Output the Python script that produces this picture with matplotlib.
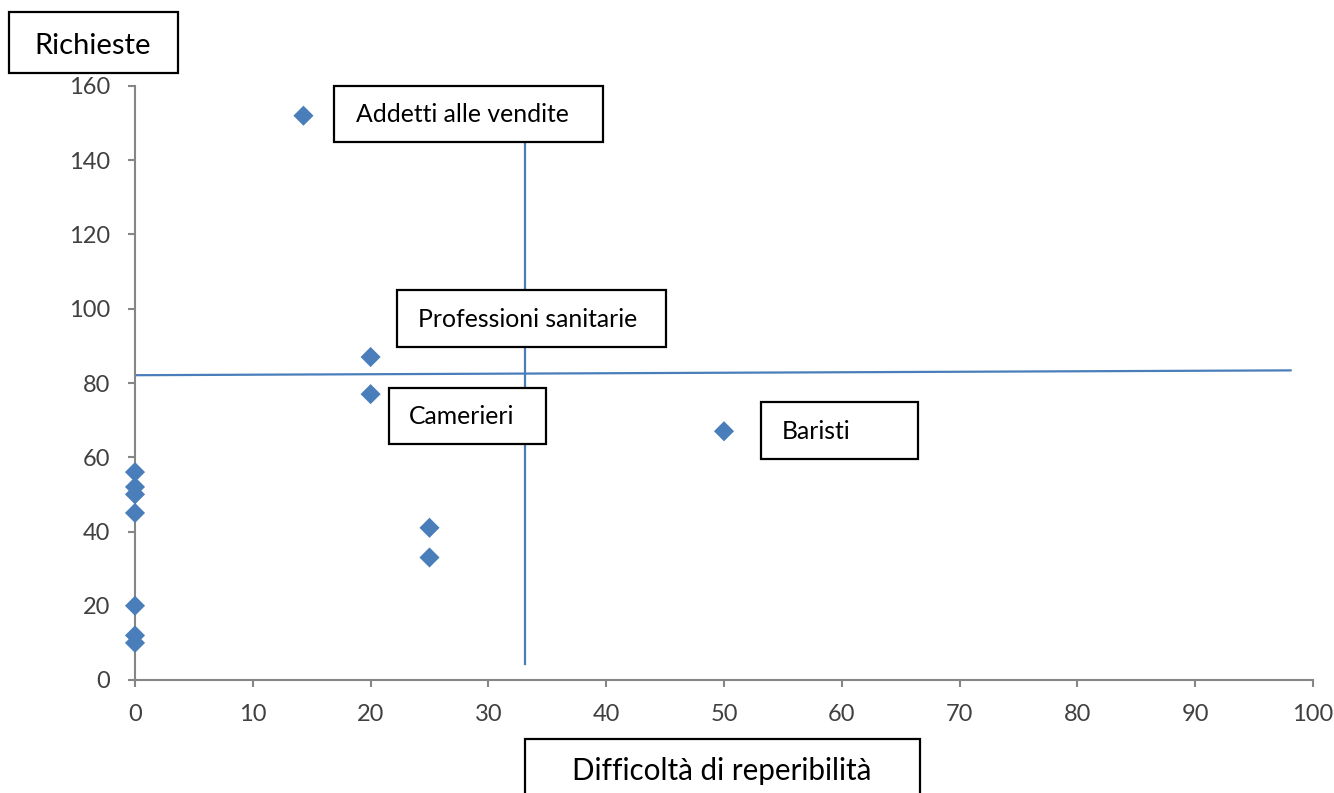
import matplotlib
matplotlib.use('Agg')
import matplotlib.pyplot as plt
from matplotlib.patches import Rectangle

# difficolta di reperibilita (%) e numero di richieste per professione
x_diff = [14.3, 20, 20, 50, 25, 25, 0, 0, 0, 0, 0, 0, 0]
y_rich = [152, 87, 77, 67, 41, 33, 56, 52, 50, 45, 20, 12, 10]

# linee di riferimento (medie)
vline_x = [33.1, 33.1]
vline_y = [4.3, 150]
hline_x = [0, 98.1]
hline_y = [82.1, 83.4]

xticks = [0, 10, 20, 30, 40, 50, 60, 70, 80, 90, 100]
yticks = [0, 20, 40, 60, 80, 100, 120, 140, 160]

# etichette: testo, riquadro (x0, y0, x1, y1 in pixel), x del testo
labels = [
    ('Addetti alle vendite', (334, 86, 603, 142), 356),
    ('Professioni sanitarie', (397, 290, 666, 347), 418),
    ('Camerieri', (389, 388, 546, 444), 409),
    ('Baristi', (761, 402, 918, 459), 782),
]

W, H = 1334, 793
blue = '#4A7EBB'
grey = '#868686'

plt.rcParams['font.family'] = ['Lato', 'DejaVu Sans']

fig = plt.figure(figsize=(W / 100, H / 100), dpi=100)
ax = fig.add_axes([135 / W, 1 - 680 / H, (1313 - 135) / W, (680 - 86) / H])

ax.plot(vline_x, vline_y, color=blue, lw=1.6, zorder=2)
ax.plot(hline_x, hline_y, color=blue, lw=1.6, zorder=2)
ax.scatter(x_diff, y_rich, marker='D', s=105, color=blue, edgecolor='none',
           zorder=4, clip_on=False)

ax.set_xlim(0, 100)
ax.set_ylim(0, 160)
ax.set_xticks(xticks)
ax.set_yticks(yticks)
for s in ['top', 'right']:
    ax.spines[s].set_visible(False)
for s in ['left', 'bottom']:
    ax.spines[s].set_color(grey)
    ax.spines[s].set_linewidth(1.5)
ax.tick_params(axis='both', direction='out', length=5, width=1.5, color=grey,
               labelsize=17, labelcolor='#404040')
ax.tick_params(axis='x', pad=12)
ax.tick_params(axis='y', pad=13)


def box(x0, y0, x1, y1):
    r = Rectangle((x0 / W, 1 - y1 / H), (x1 - x0) / W, (y1 - y0) / H,
                  transform=fig.transFigure, facecolor='white',
                  edgecolor='black', lw=1.6, zorder=5)
    fig.add_artist(r)


for txt, (x0, y0, x1, y1), tx in labels:
    box(x0, y0, x1, y1)
    base = (y0 + y1) / 2 + 8.5
    fig.text(tx / W, 1 - base / H, txt, fontsize=17.8, color='black',
             ha='left', va='baseline', zorder=6)

# titoli degli assi
box(9, 12, 178, 73)
fig.text(93 / W, 1 - 54 / H, 'Richieste', fontsize=21, ha='center',
         va='baseline', zorder=6)
box(525, 739, 920, 810)
fig.text(722 / W, 1 - 780 / H, 'Difficoltà di reperibilità', fontsize=21.3,
         ha='center', va='baseline', zorder=6)

fig.savefig('out.png', dpi=100)
